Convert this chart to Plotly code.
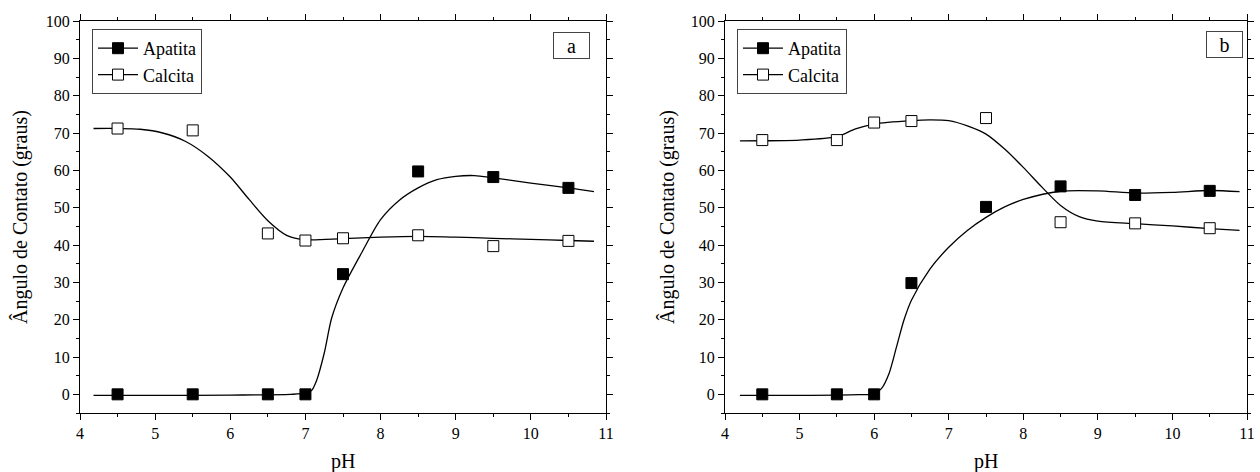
import plotly.graph_objects as go

# ---------------- data ----------------
ph_a = [4.5, 5.5, 6.5, 7.0, 7.5, 8.5, 9.5, 10.5]
apatita_a = [0, 0, 0, 0, 32.2, 59.7, 58.2, 55.3]
calcita_a = [71.2, 70.7, 43.1, 41.2, 41.8, 42.6, 39.7, 41.1]

ph_b = [4.5, 5.5, 6.0, 6.5, 7.5, 8.5, 9.5, 10.5]
apatita_b = [0, 0, 0, 29.8, 50.2, 55.7, 53.4, 54.5]
calcita_b = [68.1, 68.1, 72.8, 73.2, 74.0, 46.1, 45.8, 44.5]

# fitted curves
fit_ap_a_x = [4.18, 5.0, 6.0, 6.8, 7.0, 7.08, 7.15, 7.25, 7.35, 7.5, 7.75, 8.0, 8.25, 8.5, 8.75, 9.0, 9.25, 9.5, 10.0, 10.5, 10.84]
fit_ap_a_y = [-0.3, -0.3, -0.2, 0.0, 0.3, 1.0, 3.8, 11.0, 20.5, 28.5, 38.0, 46.8, 52.0, 55.3, 57.5, 58.4, 58.6, 58.0, 56.6, 55.3, 54.3]
fit_ca_a_x = [4.18, 4.5, 4.8, 5.1, 5.4, 5.7, 6.0, 6.25, 6.5, 6.75, 7.0, 7.5, 8.0, 8.5, 9.0, 9.5, 10.0, 10.5, 10.84]
fit_ca_a_y = [71.2, 71.2, 71.0, 70.0, 67.8, 63.8, 58.2, 52.2, 46.5, 42.6, 41.4, 41.7, 42.1, 42.3, 42.1, 41.8, 41.5, 41.2, 41.0]

fit_ap_b_x = [4.2, 5.0, 5.8, 6.0, 6.1, 6.2, 6.3, 6.4, 6.5, 6.75, 7.0, 7.25, 7.5, 7.75, 8.0, 8.5, 9.0, 9.5, 10.0, 10.5, 10.9]
fit_ap_b_y = [-0.3, -0.3, -0.1, 0.1, 1.6, 5.6, 12.7, 19.9, 25.2, 33.6, 39.4, 43.9, 47.4, 50.2, 52.2, 54.4, 54.5, 53.9, 54.1, 54.6, 54.3]
fit_ca_b_x = [4.2, 5.0, 5.5, 5.75, 6.0, 6.5, 6.75, 7.0, 7.25, 7.5, 7.75, 8.0, 8.25, 8.5, 8.75, 9.0, 9.5, 10.0, 10.5, 10.9]
fit_ca_b_y = [67.9, 68.1, 69.0, 71.1, 72.4, 73.3, 73.5, 73.3, 71.9, 69.7, 65.7, 60.8, 55.5, 50.6, 47.6, 46.4, 45.7, 45.1, 44.4, 43.9]

x_ticks = [4, 5, 6, 7, 8, 9, 10, 11]
y_ticks = [0, 10, 20, 30, 40, 50, 60, 70, 80, 90, 100]

FONT = "Liberation Serif"
W, H = 1260, 472

fig = go.Figure()

panels = [
    dict(xa="x", ya="y", leg="legend", ph=ph_a, ap=apatita_a, ca=calcita_a,
         fax=fit_ap_a_x, fay=fit_ap_a_y, fcx=fit_ca_a_x, fcy=fit_ca_a_y),
    dict(xa="x2", ya="y2", leg="legend2", ph=ph_b, ap=apatita_b, ca=calcita_b,
         fax=fit_ap_b_x, fay=fit_ap_b_y, fcx=fit_ca_b_x, fcy=fit_ca_b_y),
]

MS = 11
for p in panels:
    line = dict(color="black", width=1.3, shape="spline", smoothing=0.8)
    fig.add_trace(go.Scatter(x=p["fax"], y=p["fay"], mode="lines", line=line,
                             xaxis=p["xa"], yaxis=p["ya"], showlegend=False, hoverinfo="skip"))
    fig.add_trace(go.Scatter(x=p["fcx"], y=p["fcy"], mode="lines", line=line,
                             xaxis=p["xa"], yaxis=p["ya"], showlegend=False, hoverinfo="skip"))
    fig.add_trace(go.Scatter(x=p["ph"], y=p["ap"], mode="markers",
                             marker=dict(symbol="square", size=MS, color="black",
                                         line=dict(color="black", width=1)),
                             xaxis=p["xa"], yaxis=p["ya"], showlegend=False))
    fig.add_trace(go.Scatter(x=p["ph"], y=p["ca"], mode="markers",
                             marker=dict(symbol="square", size=MS, color="white",
                                         line=dict(color="black", width=1)),
                             xaxis=p["xa"], yaxis=p["ya"], showlegend=False))
    # legend entries
    fig.add_trace(go.Scatter(x=[None], y=[None], mode="lines+markers", name="Apatita",
                             line=dict(color="black", width=1.3),
                             marker=dict(symbol="square", size=MS, color="black",
                                         line=dict(color="black", width=1)),
                             xaxis=p["xa"], yaxis=p["ya"], legend=p["leg"]))
    fig.add_trace(go.Scatter(x=[None], y=[None], mode="lines+markers", name="Calcita",
                             line=dict(color="black", width=1.3),
                             marker=dict(symbol="square", size=MS, color="white",
                                         line=dict(color="black", width=1)),
                             xaxis=p["xa"], yaxis=p["ya"], legend=p["leg"]))

def px_x(v):
    return v / W

def px_y(v):
    return 1 - v / H

ydom = [px_y(413), px_y(21)]
xdom_a = [px_x(80), px_x(606)]
xdom_b = [px_x(725), px_x(1247)]

axis_common = dict(
    showline=True, linecolor="black", linewidth=1.3, mirror="ticks",
    ticks="outside", ticklen=6, tickwidth=1, tickcolor="black",
    showgrid=False, zeroline=False,
    tickfont=dict(family=FONT, size=16, color="black"),
)

xaxis_common = dict(axis_common, range=[4, 11], tickvals=x_ticks,
                    minor=dict(ticks="outside", ticklen=3, dtick=0.5, tick0=4, tickcolor="black", showgrid=False))
yaxis_common = dict(axis_common, range=[-5, 100], tickvals=y_ticks,
                    minor=dict(ticks="outside", ticklen=3, dtick=5, tick0=0, tickcolor="black", showgrid=False))

legend_common = dict(
    bgcolor="white", bordercolor="#444444", borderwidth=1,
    font=dict(family=FONT, size=18, color="black"),
    xanchor="left", yanchor="top", tracegroupgap=0, itemwidth=40,
)

title_font = dict(family=FONT, size=20, color="black")

fig.update_layout(
    template="none",
    width=W, height=H,
    margin=dict(l=0, r=0, t=0, b=0),
    paper_bgcolor="white", plot_bgcolor="white",
    font=dict(family=FONT, color="black"),
    showlegend=True,
    xaxis=dict(xaxis_common, domain=xdom_a, anchor="y"),
    yaxis=dict(yaxis_common, domain=ydom, anchor="x"),
    xaxis2=dict(xaxis_common, domain=xdom_b, anchor="y2"),
    yaxis2=dict(yaxis_common, domain=ydom, anchor="x2"),
    legend=dict(legend_common, x=px_x(92), y=px_y(29)),
    legend2=dict(legend_common, x=px_x(737), y=px_y(29)),
    annotations=[
        dict(text="pH", x=(xdom_a[0] + xdom_a[1]) / 2, y=px_y(461), xref="paper", yref="paper",
             xanchor="center", yanchor="middle", showarrow=False, font=title_font),
        dict(text="pH", x=(xdom_b[0] + xdom_b[1]) / 2, y=px_y(461), xref="paper", yref="paper",
             xanchor="center", yanchor="middle", showarrow=False, font=title_font),
        dict(text="Ângulo de Contato (graus)", x=px_x(20), y=px_y(217), xref="paper", yref="paper",
             xanchor="center", yanchor="middle", textangle=-90, showarrow=False, font=title_font),
        dict(text="Ângulo de Contato (graus)", x=px_x(667), y=px_y(217), xref="paper", yref="paper",
             xanchor="center", yanchor="middle", textangle=-90, showarrow=False, font=title_font),
        dict(text="a", x=px_x(571), y=px_y(46), xref="paper", yref="paper", showarrow=False,
             xanchor="center", yanchor="middle",
             bordercolor="#444444", borderwidth=1, borderpad=2, bgcolor="white", width=31, height=21,
             font=title_font),
        dict(text="b", x=px_x(1224), y=px_y(45), xref="paper", yref="paper", showarrow=False,
             xanchor="center", yanchor="middle",
             bordercolor="#444444", borderwidth=1, borderpad=2, bgcolor="white", width=31, height=21,
             font=title_font),
    ],
)

fig.write_html("out.html")
